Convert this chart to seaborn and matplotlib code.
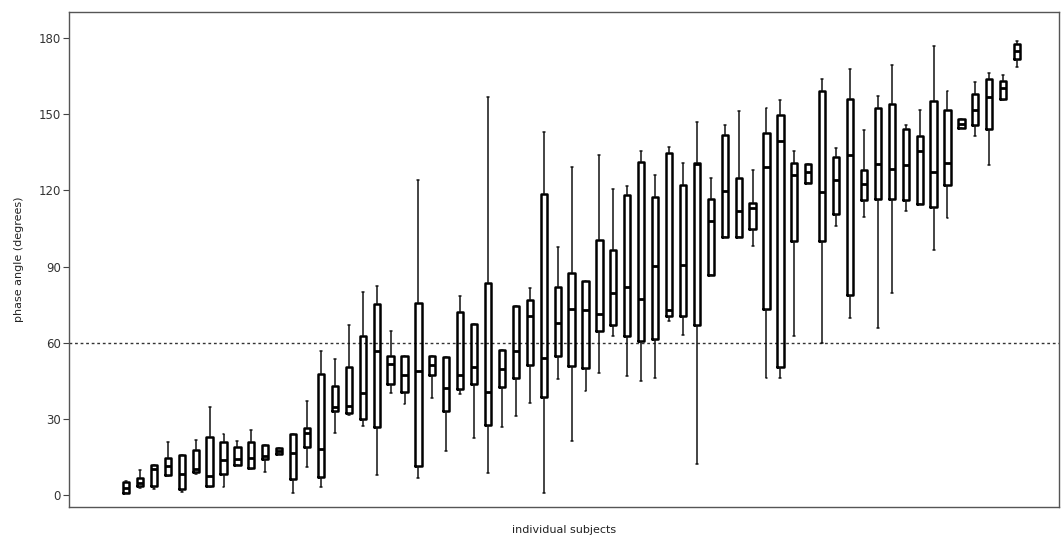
import numpy as np
import pandas as pd
import matplotlib
matplotlib.use("Agg")
import matplotlib.pyplot as plt
import seaborn as sns

# one box per subject: lower whisker, Q1, median, Q3, upper whisker (degrees)
whis_lo = [0.8, 3.0, 2.4, 7.6, 1.5, 8.5, 3.4, 3.3, 11.9, 10.2,
           9.3, 16.2, 1.0, 11.3, 3.4, 24.6, 31.5, 27.2, 7.9, 40.4,
           35.8, 7.0, 38.4, 17.4, 40.0, 22.7, 8.9, 26.9, 31.2, 36.4,
           1.0, 45.9, 21.3, 41.0, 48.2, 62.6, 46.9, 44.9, 46.3, 68.5,
           63.0, 12.5, 86.9, 101.5, 101.5, 98.0, 46.3, 46.3, 62.9, 122.9,
           60.0, 106.1, 69.8, 109.5, 66.0, 79.7, 112.1, 114.7, 96.7, 109.2,
           144.5, 141.5, 130.1, 155.6, 168.5]
q1 = [1.0, 3.5, 3.7, 8.0, 2.4, 9.3, 3.8, 8.3, 12.0, 10.6,
      14.2, 16.3, 6.3, 19.1, 7.2, 33.1, 32.5, 30.1, 27.0, 43.9,
      40.8, 11.5, 47.4, 33.1, 41.9, 43.9, 27.5, 42.6, 46.3, 51.4,
      38.6, 54.8, 51.1, 50.2, 64.6, 66.9, 62.6, 60.9, 61.6, 70.5,
      70.5, 66.9, 86.9, 101.5, 101.5, 105.0, 73.4, 50.6, 100.0, 122.9,
      100.0, 110.8, 79.0, 116.4, 116.7, 116.6, 116.1, 114.7, 113.5, 122.2,
      144.6, 145.6, 144.1, 156.0, 171.6]
median = [3.0, 5.0, 10.5, 11.5, 8.5, 10.5, 7.5, 13.8, 14.3, 14.8,
          15.5, 17.4, 16.8, 24.6, 18.1, 34.9, 35.0, 40.1, 56.7, 51.8,
          47.3, 49.1, 51.5, 42.1, 47.2, 50.4, 40.8, 49.9, 57.0, 70.5,
          54.1, 67.9, 73.5, 72.8, 71.5, 79.7, 81.9, 77.4, 90.4, 72.8,
          90.5, 130.3, 108.1, 119.6, 111.8, 113.1, 129.4, 139.3, 126.2, 127.1,
          119.4, 124.0, 133.9, 122.5, 130.4, 128.4, 130.1, 135.7, 127.2, 130.8,
          146.3, 151.7, 156.7, 160.3, 174.7]
q3 = [5.2, 6.7, 11.8, 14.8, 15.8, 17.8, 22.9, 21.1, 19.0, 21.0,
      19.7, 18.6, 24.0, 26.6, 47.6, 43.2, 50.4, 62.9, 75.3, 55.0,
      54.7, 75.7, 55.0, 54.4, 72.2, 67.6, 83.6, 57.4, 74.4, 77.0,
      118.7, 82.0, 87.5, 84.5, 100.4, 96.4, 118.2, 131.2, 117.3, 134.7,
      122.2, 130.8, 116.7, 141.9, 124.9, 115.0, 142.8, 149.8, 130.8, 130.4,
      159.3, 133.1, 155.9, 128.1, 152.4, 154.1, 144.1, 141.5, 155.4, 151.5,
      148.1, 158.0, 163.8, 162.9, 177.5]
whis_hi = [5.6, 9.9, 11.8, 21.0, 15.8, 21.7, 34.9, 24.0, 21.2, 25.7,
           19.7, 18.7, 24.0, 37.1, 56.7, 53.5, 66.9, 80.1, 82.3, 64.6,
           54.7, 124.2, 55.0, 54.4, 78.3, 67.6, 156.7, 57.4, 74.4, 81.6,
           143.0, 97.6, 129.4, 84.5, 133.8, 120.7, 121.9, 135.5, 126.2, 137.3,
           131.0, 147.1, 124.9, 145.6, 151.1, 127.9, 152.6, 155.7, 135.6, 130.4,
           163.9, 136.9, 167.7, 143.6, 157.2, 169.4, 145.6, 151.7, 177.0, 159.3,
           148.2, 162.5, 166.4, 165.5, 179.0]

y_ticks = [0, 30, 60, 90, 120, 150, 180]
ref_angle = 60


def main():
    subjects = list(range(len(median)))
    rows = []
    for s in subjects:
        for v in (whis_lo[s], q1[s], median[s], q3[s], whis_hi[s]):
            rows.append({"subject": s, "angle": v})
    df = pd.DataFrame(rows)

    sns.set_style("white")
    plt.rcParams["font.family"] = ["DejaVu Sans"]

    fig = plt.figure(figsize=(10.61, 5.38), dpi=100)
    ax = fig.add_axes([0.065, 0.058, 0.933, 0.92])

    sns.boxplot(data=df, x="subject", y="angle", order=subjects,
                whis=(0, 100), width=0.45, fill=False, color="black",
                linewidth=1.8, ax=ax,
                medianprops={"linewidth": 2.0, "color": "black"},
                whiskerprops={"linewidth": 1.1, "color": "#111111"},
                capprops={"linewidth": 1.1, "color": "#111111"},
                capwidths=0.14)

    ax.axhline(ref_angle, color="#333333", linestyle=(0, (2, 2)), linewidth=1.0, zorder=0)

    ax.set_xlim(-4.1, 67.0)
    ax.set_ylim(-4.5, 190.3)
    ax.set_yticks(y_ticks)
    ax.set_xticks([])
    ax.tick_params(axis="y", which="both", left=True, length=4, width=0.8,
                   color="#444444", labelsize=8.5, labelcolor="#333333", pad=2)
    for sp in ax.spines.values():
        sp.set_visible(True)
        sp.set_color("#555555")
        sp.set_linewidth(1.0)

    ax.set_xlabel("individual subjects", fontsize=8, color="#222222", labelpad=13)
    ax.set_ylabel("phase angle (degrees)", fontsize=8, color="#222222", labelpad=10)

    fig.savefig("out.png", dpi=100)
    plt.close(fig)


if __name__ == "__main__":
    main()
